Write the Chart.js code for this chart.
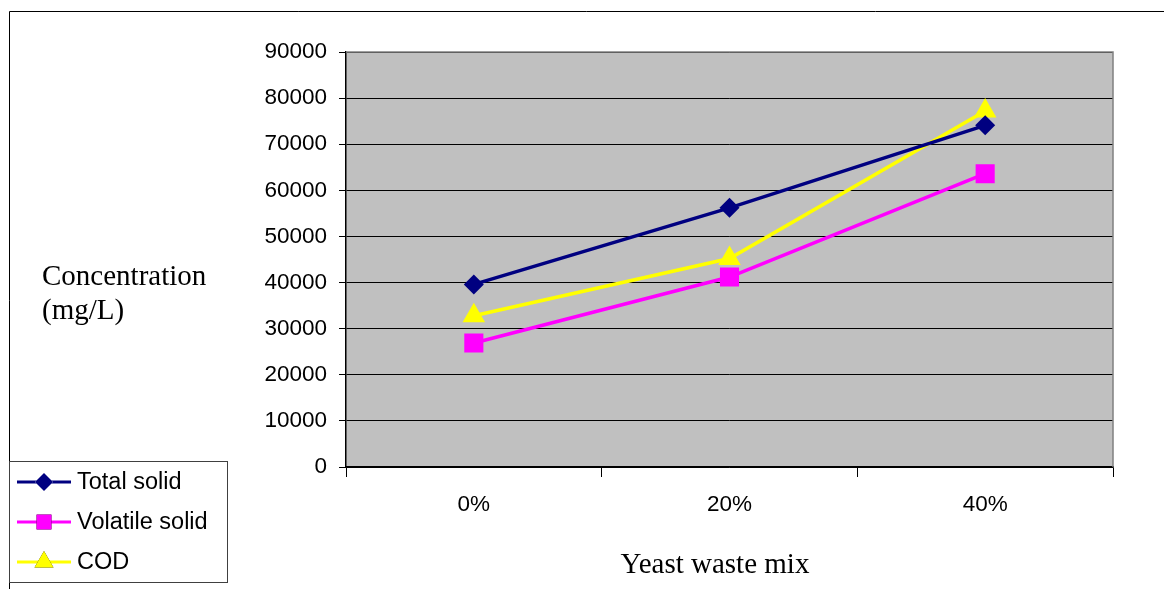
<!DOCTYPE html>
<html>
<head>
<meta charset="utf-8">
<script src="https://cdn.jsdelivr.net/npm/chart.js@4/dist/chart.umd.min.js"></script>
<style>
  html, body { margin: 0; padding: 0; background: #fff; }
  #wrap { position: relative; width: 1164px; height: 589px; }
</style>
</head>
<body>
<div id="wrap"><canvas id="c" width="1164" height="589"></canvas></div>
<script>
// Yeast waste mixing ratio on the x axis
const categories = ['0%', '20%', '40%'];
// Concentrations in mg/L
const totalSolid = [39600, 56200, 74100];
const volatileSolid = [26900, 41200, 63600];
const cod = [32800, 45200, 77200];
const yTicks = [0, 10000, 20000, 30000, 40000, 50000, 60000, 70000, 80000, 90000];

const SANS = '"Liberation Sans", Arial, sans-serif';
const SERIF = '"Liberation Serif", "Times New Roman", serif';

const series = [
  { label: 'Total solid', data: totalSolid, color: '#000080', style: 'rectRot', r: 10, lr: 9 },
  { label: 'Volatile solid', data: volatileSolid, color: '#FF00FF', style: 'rect', r: 13.5, lr: 10.5 },
  { label: 'COD', data: cod, color: '#FFFF00', style: 'triangle', r: 13, lr: 11 }
];

// Grey plot area, outer frame, free-standing titles and the boxed legend
const decor = {
  id: 'decor',
  beforeDraw(chart) {
    const { ctx, chartArea: a } = chart;
    ctx.save();
    ctx.fillStyle = '#C0C0C0';
    ctx.fillRect(a.left, a.top, a.right - a.left, a.bottom - a.top);
    ctx.restore();
  },
  afterDatasetsDraw(chart) {
    const { ctx, chartArea: a } = chart;
    ctx.save();
    // outer frame (top and left edges)
    ctx.strokeStyle = '#000';
    ctx.lineWidth = 1;
    ctx.beginPath();
    ctx.moveTo(9.5, 589);
    ctx.lineTo(9.5, 11.5);
    ctx.lineTo(1164, 11.5);
    ctx.stroke();

    // axis titles
    ctx.fillStyle = '#000';
    ctx.font = '29px ' + SERIF;
    ctx.textAlign = 'left';
    ctx.textBaseline = 'middle';
    ctx.fillText('Concentration', 42, 277);
    ctx.fillText('(mg/L)', 42, 311);
    ctx.textAlign = 'center';
    ctx.fillText('Yeast waste mix', 715, 565);

    // legend
    ctx.fillStyle = '#fff';
    ctx.fillRect(9.5, 461.5, 218, 121);
    ctx.strokeStyle = '#404040';
    ctx.lineWidth = 1;
    ctx.strokeRect(9.5, 461.5, 218, 121);
    ctx.font = '23.5px ' + SANS;
    ctx.textAlign = 'left';
    const rows = [482, 522, 562];
    series.forEach((s, i) => {
      const y = rows[i];
      ctx.strokeStyle = s.color;
      ctx.lineWidth = 3;
      ctx.beginPath();
      ctx.moveTo(17, y);
      ctx.lineTo(71, y);
      ctx.stroke();
      Chart.helpers.drawPoint(ctx, {
        pointStyle: s.style, radius: s.lr, rotation: 0, borderWidth: 0
      }, 44, y);
      ctx.fillStyle = s.color;
      ctx.fill();
      ctx.fillStyle = '#000';
      ctx.fillText(s.label, 77, y + 1);
    });

    // plot border on the right and top
    ctx.strokeStyle = '#808080';
    ctx.lineWidth = 1.5;
    ctx.beginPath();
    ctx.moveTo(a.left, a.top);
    ctx.lineTo(a.right, a.top);
    ctx.lineTo(a.right, a.bottom);
    ctx.stroke();
    ctx.restore();
  }
};

new Chart(document.getElementById('c'), {
  type: 'line',
  data: {
    labels: categories,
    datasets: series.map(s => ({
      label: s.label,
      data: s.data,
      borderColor: s.color,
      backgroundColor: s.color,
      borderWidth: 3.5,
      pointStyle: s.style,
      pointRadius: s.r,
      pointHoverRadius: s.r,
      pointBorderWidth: 0,
      tension: 0,
      fill: false
    }))
  },
  options: {
    responsive: false,
    animation: false,
    events: [],
    layout: { padding: { left: 0, top: 52, right: 51, bottom: 0 } },
    plugins: { legend: { display: false }, tooltip: { enabled: false }, title: { display: false } },
    scales: {
      x: {
        type: 'category',
        offset: true,
        grid: { offset: true, drawOnChartArea: false, color: '#000', tickLength: 10, tickWidth: 1 },
        border: { color: '#000', width: 1.5 },
        ticks: { color: '#000', font: { family: SANS, size: 22.5 }, padding: 14, maxRotation: 0 },
        afterFit(scale) { scale.height = 122; }
      },
      y: {
        min: 0,
        max: 90000,
        afterBuildTicks(scale) { scale.ticks = yTicks.map(v => ({ value: v })); },
        grid: { color: '#000', lineWidth: 1, tickLength: 7 },
        border: { color: '#000', width: 1.5 },
        ticks: { color: '#000', font: { family: SANS, size: 22.5 }, padding: 12, callback: v => String(v) },
        afterFit(scale) { scale.width = 346; }
      }
    }
  },
  plugins: [decor]
});
</script>
</body>
</html>
